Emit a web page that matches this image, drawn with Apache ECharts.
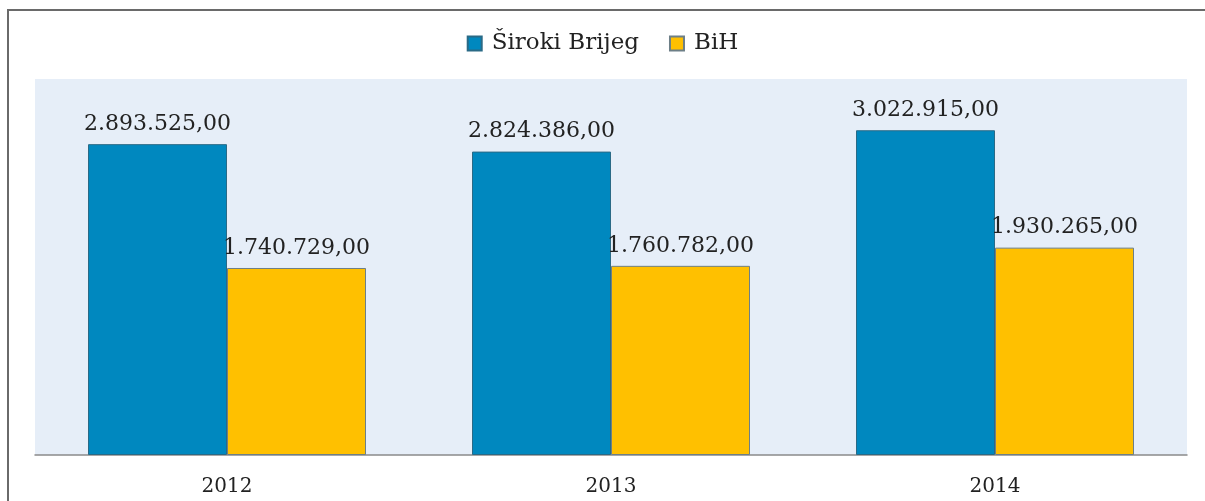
<!DOCTYPE html>
<html>
<head>
<meta charset="utf-8">
<script src="https://cdn.jsdelivr.net/npm/echarts@6/dist/echarts.min.js"></script>
<style>
  html, body { margin: 0; padding: 0; background: #fff; }
  #chart { width: 1205px; height: 501px; }
</style>
</head>
<body>
<div id="chart"></div>
<script>
  const years = ['2012', '2013', '2014'];
  const sirokiBrijeg = [2893525, 2824386, 3022915];
  const bih = [1740729, 1760782, 1930265];

  const serif = '"DejaVu Serif", "Liberation Serif", serif';

  // 2893525 -> 2.893.525,00
  const fmt = function(v) {
    return String(v).replace(/\B(?=(\d{3})+(?!\d))/g, '.') + ',00';
  };

  const labelStyle = {
    show: true,
    position: 'top',
    distance: 9,
    color: '#222',
    fontFamily: serif,
    fontSize: 22,
    formatter: p => fmt(p.value)
  };

  const myChart = echarts.init(document.getElementById('chart'));
  myChart.setOption({
    animation: false,
    backgroundColor: '#fff',
    legend: {
      top: 27,
      left: 'center',
      icon: 'rect',
      itemWidth: 14,
      itemHeight: 14,
      itemGap: 30,
      textStyle: {
        fontFamily: serif,
        fontSize: 23,
        color: '#222',
        padding: [0, 0, 0, 5]
      },
      data: ['Široki Brijeg', 'BiH']
    },
    grid: {
      left: 35,
      right: 18,
      top: 79,
      bottom: 46,
      show: true,
      backgroundColor: '#E6EEF8',
      borderWidth: 0
    },
    xAxis: {
      type: 'category',
      data: years,
      axisLine: { lineStyle: { color: '#8a8a8a', width: 1.5 } },
      axisTick: { show: false },
      axisLabel: {
        margin: 22,
        fontFamily: serif,
        fontSize: 20,
        color: '#222'
      }
    },
    yAxis: {
      type: 'value',
      min: 0,
      max: 3500000,
      show: false,
      splitLine: { show: false }
    },
    series: [
      {
        name: 'Široki Brijeg',
        type: 'bar',
        data: sirokiBrijeg,
        barWidth: 139,
        barGap: '0%',
        itemStyle: { color: '#0088BF', borderColor: '#2a6a86', borderWidth: 1 },
        label: labelStyle
      },
      {
        name: 'BiH',
        type: 'bar',
        data: bih,
        barWidth: 139,
        itemStyle: { color: '#FFC000', borderColor: '#6d7f87', borderWidth: 1 },
        label: labelStyle
      }
    ],
    graphic: [
      {
        type: 'polyline',
        shape: { points: [[8, 501], [8, 10], [1205, 10]] },
        style: { stroke: '#6a6a6a', lineWidth: 2, fill: null }
      }
    ]
  });
</script>
</body>
</html>
